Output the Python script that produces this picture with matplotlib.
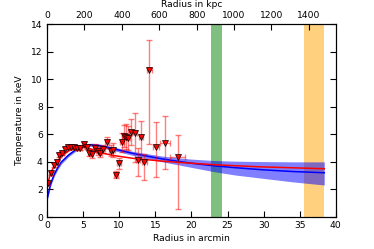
import matplotlib
matplotlib.use("Agg")
import matplotlib.pyplot as plt
import numpy as np

plt.rcParams['font.family'] = ['DejaVu Sans']
plt.rcParams['font.size'] = 6.6

# Data points
r_arcmin = [0.1, 0.5, 0.97, 1.38, 1.7, 2.1, 2.5, 2.95, 3.37, 3.8, 4.2, 4.6, 5.07, 5.5,
            5.86, 6.2, 6.6, 7.0, 7.4, 7.8, 8.3, 8.8, 9.2, 9.55, 9.97, 10.4, 10.66,
            10.93, 11.26, 11.63, 12.13, 12.6, 13.06, 13.5, 14.16, 15.04, 16.33, 18.09]
temp = [2.49, 3.19, 3.75, 3.99, 4.47, 4.62, 4.93, 5.08, 5.1, 5.08, 4.98, 5.0, 5.3, 5.1,
        4.67, 4.57, 5.03, 4.81, 4.67, 4.93, 5.42, 4.8, 4.84, 3.07, 3.89, 5.42, 5.88,
        5.83, 5.73, 6.19, 6.12, 4.11, 5.83, 3.97, 10.64, 5.1, 5.39, 4.35]
temp_lo = [2.34, 3.04, 3.6, 3.84, 4.32, 4.47, 4.78, 4.93, 4.95, 4.93, 4.83, 4.85, 5.15, 4.95,
           4.42, 4.27, 4.73, 4.51, 4.37, 4.63, 5.02, 4.4, 4.34, 2.82, 3.49, 4.72, 5.08,
           4.93, 4.83, 5.19, 4.0, 2.95, 4.2, 2.66, 5.3, 2.9, 3.45, 0.55]
temp_hi = [2.64, 3.34, 3.9, 4.14, 4.62, 4.77, 5.08, 5.23, 5.25, 5.23, 5.13, 5.15, 5.45, 5.25,
           4.92, 4.87, 5.33, 5.11, 4.97, 5.23, 5.82, 5.2, 5.34, 3.32, 4.29, 6.12, 6.68,
           6.73, 6.63, 7.1, 7.55, 5.0, 6.95, 4.6, 12.85, 6.9, 7.35, 5.95]
r_err = [0.1, 0.2, 0.2, 0.2, 0.2, 0.2, 0.2, 0.2, 0.2, 0.2, 0.2, 0.2, 0.2, 0.2,
         0.2, 0.2, 0.2, 0.2, 0.2, 0.2, 0.25, 0.25, 0.25, 0.25, 0.25, 0.25, 0.25,
         0.25, 0.25, 0.3, 0.3, 0.3, 0.3, 0.3, 0.35, 0.4, 0.75, 1.0]

# Model curves
model_r = [0.0, 0.5, 1.0, 1.5, 2.0, 3.0, 4.0, 5.0, 6.0, 7.0, 8.0, 9.0, 10.0, 12.0,
           14.0, 16.0, 18.0, 20.0, 23.0, 26.0, 30.0, 34.0, 38.4]
blue_t = [1.28, 2.4, 3.1, 3.6, 4.0, 4.5, 4.89, 5.14, 5.24, 5.2, 5.1, 4.98, 4.85, 4.6,
          4.4, 4.21, 4.05, 3.9, 3.72, 3.58, 3.42, 3.3, 3.21]
blue_lo = [1.15, 2.25, 2.95, 3.45, 3.85, 4.38, 4.78, 5.03, 5.13, 5.08, 4.97, 4.85, 4.72, 4.45,
           4.22, 4.0, 3.8, 3.6, 3.3, 3.05, 2.8, 2.55, 2.32]
blue_hi = [1.4, 2.55, 3.25, 3.75, 4.1, 4.62, 5.0, 5.25, 5.35, 5.32, 5.22, 5.1, 4.98, 4.75,
           4.58, 4.42, 4.3, 4.2, 4.1, 4.05, 4.02, 4.0, 4.0]
red_r = [0.1, 0.5, 1.0, 1.5, 2.0, 3.0, 4.0, 5.0, 6.0, 7.0, 8.0, 9.0, 10.0, 12.0,
         14.0, 16.0, 18.0, 20.0, 23.0, 26.0, 30.0, 34.0, 38.4]
red_t = [2.4, 3.2, 3.7, 4.05, 4.4, 4.8, 5.0, 5.05, 4.95, 4.75, 4.6, 4.48, 4.4, 4.25,
         4.15, 4.05, 3.97, 3.9, 3.8, 3.72, 3.63, 3.57, 3.5]

green_band = [22.7, 24.2]
orange_band = [35.6, 38.4]
kpc_per_arcmin = 38.6

fig = plt.figure(figsize=(3.74, 2.49), dpi=100)
ax = fig.add_axes([0.1257, 0.1285, 0.7723, 0.7751])

ax.axvspan(green_band[0], green_band[1], color='green', alpha=0.5, lw=0)
ax.axvspan(orange_band[0], orange_band[1], color='orange', alpha=0.5, lw=0)

ax.fill_between(model_r, blue_lo, blue_hi, color='blue', alpha=0.5, lw=0)
ax.plot(model_r, blue_t, color='blue', lw=1.1)
ax.plot(red_r, red_t, color='red', lw=1.1)

t = np.array(temp)
yerr = [t - np.array(temp_lo), np.array(temp_hi) - t]
ax.errorbar(r_arcmin, temp, yerr=yerr, xerr=r_err, fmt='none', ecolor='red',
            alpha=0.5, elinewidth=1, capsize=2.5, capthick=1)
ax.plot(r_arcmin, temp, 'v', color='red', markeredgecolor='black',
        markeredgewidth=0.5, markersize=4.8)

ax.set_xlim(0, 40)
ax.set_ylim(0, 14)
ax.set_xlabel('Radius in arcmin', labelpad=3)
ax.set_ylabel('Temperature in keV', labelpad=5)
ax.tick_params(direction='in', top=False, right=True, length=4, pad=3)
ax.set_xticks(np.arange(0, 41, 5))
ax.set_yticks(np.arange(0, 15, 2))

ax2 = ax.twiny()
ax2.set_xlim(0, 40 * kpc_per_arcmin)
ax2.set_xticks(np.arange(0, 1401, 200))
ax2.tick_params(direction='in', length=4, pad=3)
ax2.set_xlabel('Radius in kpc', labelpad=3)

fig.savefig('out.png', dpi=100)
